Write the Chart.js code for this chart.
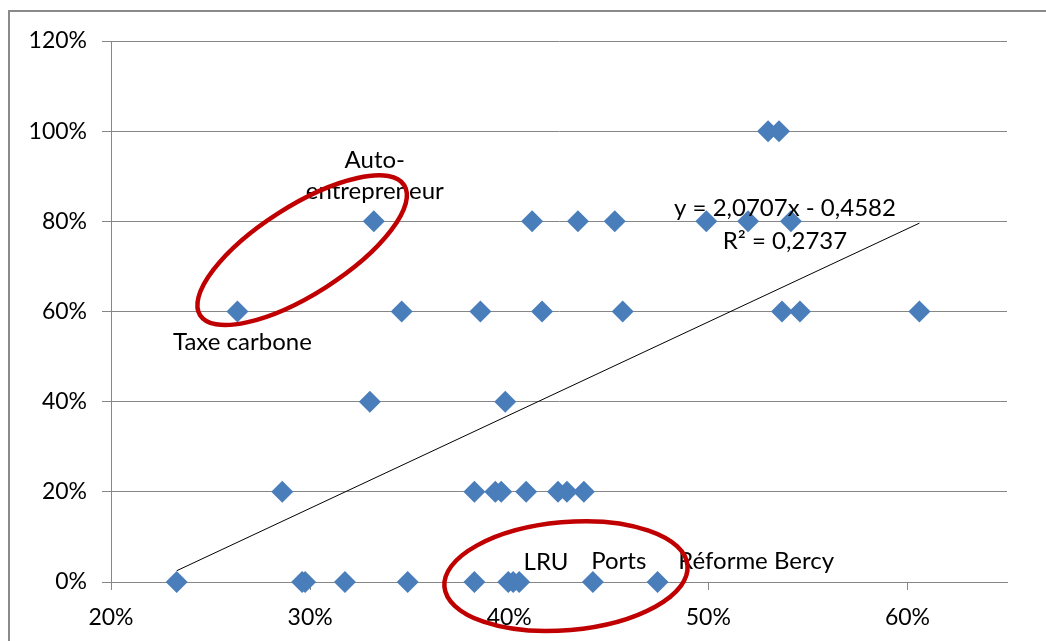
<!DOCTYPE html>
<html>
<head>
<meta charset="utf-8">
<script src="https://cdn.jsdelivr.net/npm/chart.js@4"></script>
<style>
  html, body { margin: 0; padding: 0; background: #fff; overflow: hidden; }
  #wrap { position: relative; width: 1046px; height: 641px; }
  #frame {
    position: absolute; left: 8px; top: 10px; width: 2000px; height: 2000px;
    border-left: 2px solid #8a8a8a; border-top: 2px solid #8a8a8a;
    pointer-events: none;
  }
</style>
</head>
<body>
<div id="wrap">
  <canvas id="chart" width="1046" height="641"></canvas>
  <div id="frame"></div>
</div>
<script>
// tick labels (percent)
const xTicks = [20, 30, 40, 50, 60];
const yTicks = [0, 20, 40, 60, 80, 100, 120];

// points (x %, y %)
const pointsX = [
  23.3, 29.6, 29.75, 31.75, 34.9, 38.25, 39.95, 40.2, 40.5, 44.2, 47.45,
  28.6, 38.25, 39.3, 39.6, 40.85, 42.45, 42.9, 43.75,
  33.0, 39.8,
  26.35, 34.6, 38.55, 41.65, 45.7, 53.7, 54.6, 60.6,
  33.2, 41.15, 43.45, 45.3, 49.9, 52.0, 54.15,
  53.0, 53.55
];
const pointsY = [
  0, 0, 0, 0, 0, 0, 0, 0, 0, 0, 0,
  20, 20, 20, 20, 20, 20, 20, 20,
  40, 40,
  60, 60, 60, 60, 60, 60, 60, 60,
  80, 80, 80, 80, 80, 80, 80,
  100, 100
];

// linear trendline ends
const trendX = [23.3, 60.6];
const trendY = [2.5, 79.6];

const labelTexts = ["Auto-", "entrepreneur", "Taxe carbone", "LRU", "Ports", "Réforme Bercy",
  "y = 2,0707x - 0,4582", "R² = 0,2737"];

const gridColor = "#868686";
const markerColor = "#4a7ebb";
const fontSpec = { family: "Lato", size: 23 };

const notes = {
  id: "notes",
  afterDraw(chart) {
    const ctx = chart.ctx;
    const x = chart.scales.x, y = chart.scales.y;
    const place = [
      [33.25, 93.6], [33.25, 86.7], [26.6, 53.2], [41.85, 4.4], [45.5, 4.6], [52.4, 4.6],
      [53.85, 83.0], [53.85, 75.6]
    ];
    ctx.save();
    ctx.fillStyle = "#000";
    ctx.font = "24px Lato";
    ctx.textAlign = "center";
    ctx.textBaseline = "middle";
    labelTexts.forEach((t, i) => {
      ctx.fillText(t, x.getPixelForValue(place[i][0]), y.getPixelForValue(place[i][1]));
    });

    // red ellipses
    ctx.strokeStyle = "#c00000";
    ctx.lineWidth = 4.5;
    const rings = [
      { cx: 29.6, cy: 73.6, rx: 121, ry: 44, rot: -32.5 },
      { cx: 42.85, cy: 1.3, rx: 122, ry: 54, rot: -5 }
    ];
    rings.forEach(r => {
      ctx.beginPath();
      ctx.ellipse(x.getPixelForValue(r.cx), y.getPixelForValue(r.cy), r.rx, r.ry,
        r.rot * Math.PI / 180, 0, Math.PI * 2);
      ctx.stroke();
    });
    ctx.restore();
  }
};

new Chart(document.getElementById("chart"), {
  type: "scatter",
  data: {
    datasets: [
      {
        label: "points",
        data: pointsX.map((v, i) => ({ x: v, y: pointsY[i] })),
        pointStyle: "rectRot",
        pointRadius: 11,
        pointBackgroundColor: markerColor,
        pointBorderColor: markerColor,
        pointBorderWidth: 0,
        showLine: false,
        clip: false
      },
      {
        label: "trend",
        type: "line",
        data: trendX.map((v, i) => ({ x: v, y: trendY[i] })),
        borderColor: "#000",
        borderWidth: 1,
        pointRadius: 0,
        showLine: true,
        fill: false,
        clip: false
      }
    ]
  },
  options: {
    responsive: false,
    animation: false,
    layout: { padding: { top: 41, right: 39, left: 0, bottom: 0 } },
    plugins: { legend: { display: false }, tooltip: { enabled: false } },
    scales: {
      x: {
        type: "linear",
        min: 20,
        max: 65,
        afterBuildTicks: s => { s.ticks = xTicks.map(v => ({ value: v })); },
        afterFit: s => { s.height = 59; },
        ticks: { callback: v => v + "%", color: "#000", font: fontSpec, padding: 14, maxRotation: 0 },
        grid: { drawOnChartArea: false, drawTicks: true, tickLength: 8, color: gridColor },
        border: { color: gridColor }
      },
      y: {
        type: "linear",
        min: 0,
        max: 120,
        afterBuildTicks: s => { s.ticks = yTicks.map(v => ({ value: v })); },
        afterFit: s => { s.width = 111; },
        ticks: { callback: v => v + "%", color: "#000", font: fontSpec, padding: 15 },
        grid: { color: gridColor, tickLength: 9 },
        border: { color: gridColor }
      }
    }
  },
  plugins: [notes]
});
</script>
</body>
</html>
